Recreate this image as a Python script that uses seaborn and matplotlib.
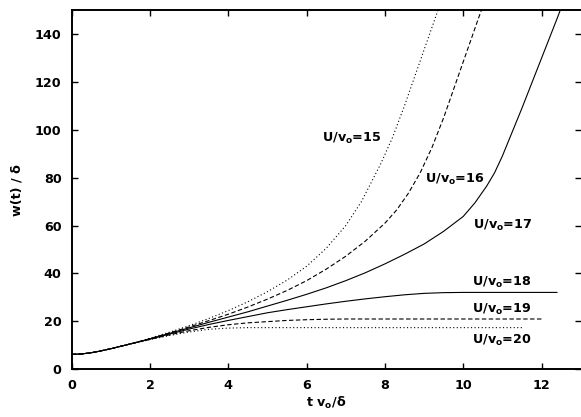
import matplotlib
matplotlib.use("Agg")
import matplotlib.pyplot as plt
import numpy as np
import pandas as pd
import seaborn as sns

# Interface width w(t)/delta versus t*v_o/delta for several U/v_o ratios
ratios = [15, 16, 17, 18, 19, 20]

t_start = [0.0, 0.25, 0.5, 0.75, 1.0, 1.5]
w_start = [6.25, 6.4, 6.9, 7.7, 8.6, 10.6]

t15 = t_start + [2.0, 2.5, 3.0, 3.5, 4.0, 4.5, 5.0, 5.5, 6.0, 6.5, 7.0, 7.4, 7.9, 8.2, 8.5, 8.8, 9.1, 9.4]
w15 = w_start + [13.0, 15.5, 18.2, 21.2, 24.5, 28.2, 32.4, 37.2, 43.0, 50.5, 60.0, 70.0, 86.0, 97.0, 110.0, 124.0, 138.0, 152.0]

t16 = t_start + [2.0, 2.5, 3.0, 3.5, 4.0, 4.5, 5.0, 5.5, 6.0, 6.5, 7.0, 7.5, 8.0, 8.3, 8.6, 8.9, 9.2, 9.5, 9.8, 10.1, 10.4, 10.5]
w16 = w_start + [12.8, 15.2, 17.7, 20.3, 23.0, 26.0, 29.3, 32.9, 37.0, 41.8, 47.2, 53.5, 61.0, 66.5, 73.5, 82.0, 92.5, 105.0, 119.0, 133.0, 147.0, 151.5]

t17 = t_start + [2.0, 2.5, 3.0, 3.5, 4.0, 4.5, 5.0, 5.5, 6.0, 6.5, 7.0, 7.5, 8.0, 8.5, 9.0, 9.5, 10.0,
                 10.3, 10.6, 10.8, 11.0, 11.2, 11.5, 11.8, 12.1, 12.4, 12.55]
w17 = w_start + [12.7, 15.0, 17.3, 19.6, 21.8, 24.0, 26.4, 28.8, 31.3, 34.0, 37.0, 40.3, 44.0, 48.0, 52.3, 57.6, 63.8,
                 69.5, 76.5, 82.0, 89.0, 97.0, 109.0, 121.5, 134.0, 146.5, 153.0]

t18 = t_start + [2.0, 2.5, 3.0, 3.5, 4.0, 4.5, 5.0, 5.5, 6.0, 6.5, 7.0, 7.5, 8.0, 8.5, 9.0, 9.5, 10.0, 11.0, 12.4]
w18 = w_start + [12.6, 14.7, 16.8, 18.7, 20.4, 22.0, 23.6, 24.9, 26.1, 27.3, 28.4, 29.4, 30.3, 31.1, 31.7, 32.0, 32.1, 32.1, 32.1]

t19 = t_start + [2.0, 2.5, 3.0, 3.5, 4.0, 4.5, 5.0, 5.5, 6.0, 6.5, 7.0, 8.0, 10.0, 12.0]
w19 = w_start + [12.5, 14.4, 16.1, 17.5, 18.6, 19.4, 19.9, 20.4, 20.7, 20.9, 21.0, 21.0, 21.0, 21.0]

t20 = t_start + [2.0, 2.5, 3.0, 3.5, 4.0, 4.5, 5.0, 6.0, 8.0, 10.0, 11.5]
w20 = w_start + [12.4, 14.1, 15.6, 16.7, 17.2, 17.4, 17.4, 17.4, 17.4, 17.4, 17.4]

series_t = [t15, t16, t17, t18, t19, t20]
series_w = [w15, w16, w17, w18, w19, w20]

# label anchor (left edge, baseline) for each curve
label_t = [6.39, 9.02, 10.24, 10.22, 10.22, 10.22]
label_w = [95.0, 77.9, 58.5, 34.8, 23.4, 10.5]

x_ticks = [0, 2, 4, 6, 8, 10, 12]
y_ticks = [0, 20, 40, 60, 80, 100, 120, 140]

frames = [pd.DataFrame({"t": tt, "w": ww, "U": r}) for r, tt, ww in zip(ratios, series_t, series_w)]
df = pd.concat(frames, ignore_index=True)

sns.set_style("ticks")
plt.rcParams["font.family"] = ["DejaVu Sans"]
plt.rcParams["font.weight"] = "bold"
plt.rcParams["mathtext.default"] = "regular"
for key in ["text.color", "axes.labelcolor", "xtick.color", "ytick.color", "axes.edgecolor"]:
    plt.rcParams[key] = "black"

fig = plt.figure(figsize=(5.81, 4.17), dpi=100)
ax = fig.add_axes([71.7 / 581, (417 - 369.3) / 417, (580.65 - 71.7) / 581, (369.3 - 10) / 417])

dotted = (1, 2.2)
dashed = (4, 2.2)
dash_map = {15: dotted, 16: dashed, 17: "", 18: "", 19: dashed, 20: dotted}
palette = {r: "black" for r in ratios}

sns.lineplot(data=df, x="t", y="w", hue="U", style="U", palette=palette, dashes=dash_map,
             estimator=None, sort=False, legend=False, lw=0.8, ax=ax)

for r, lt, lw_ in zip(ratios, label_t, label_w):
    ax.text(lt, lw_, f"U/v$_o$={r}", ha="left", va="baseline", fontsize=9.2,
            fontweight="bold", color="black")

ax.set_xlim(0, 13)
ax.set_ylim(0, 150)
ax.set_xticks(x_ticks)
ax.set_yticks(y_ticks)
ax.tick_params(direction="in", top=True, right=True, length=4, width=1.0,
               labelsize=9.2, pad=7.3, colors="black")
for lab in ax.get_xticklabels() + ax.get_yticklabels():
    lab.set_fontweight("bold")

for side in ["left", "bottom", "top"]:
    ax.spines[side].set_linewidth(1.4)
    ax.spines[side].set_color("black")
ax.spines["right"].set_visible(False)

ax.set_xlabel("t v$_o$/δ", fontsize=9.2, fontweight="bold", labelpad=2, color="black")
ax.set_ylabel("w(t) / δ", fontsize=9.2, fontweight="bold", labelpad=8, color="black")

fig.savefig("out.png", dpi=100)
